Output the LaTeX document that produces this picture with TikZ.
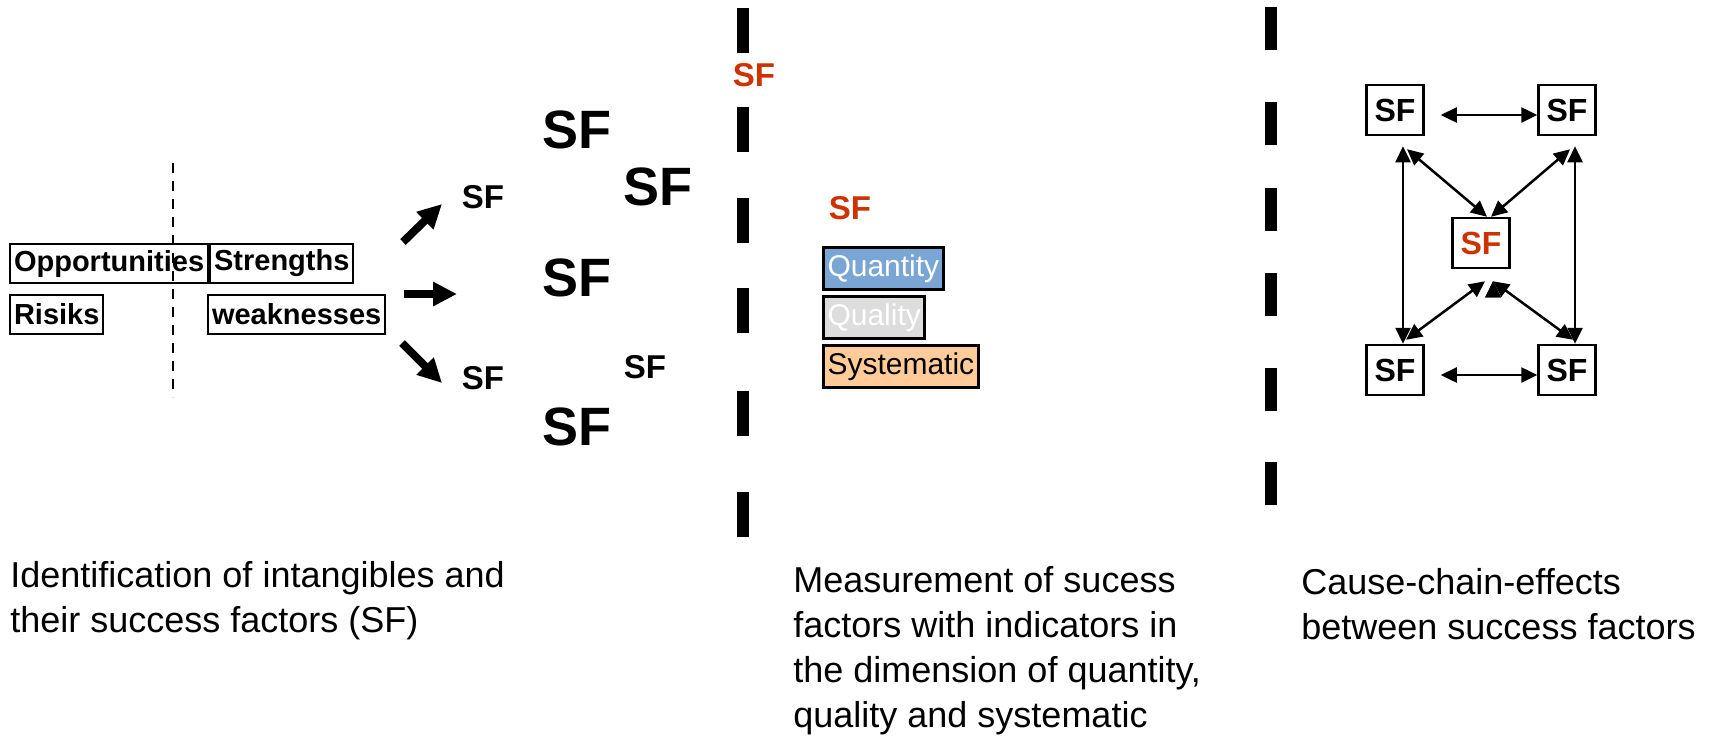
\documentclass[tikz,border=0pt]{standalone}
\usepackage{fontspec}
\setmainfont{Liberation Sans}
\usetikzlibrary{arrows.meta,positioning}

\definecolor{sfred}{RGB}{204,51,0}
\definecolor{qtyblue}{RGB}{122,166,214}
\definecolor{qualgrey}{RGB}{221,221,221}
\definecolor{sysorange}{RGB}{255,204,153}

\begin{document}
\begin{tikzpicture}
  [x=0.5pt,y=-0.5pt,
   swot/.style={draw,line width=1pt,anchor=west,inner xsep=2pt,inner ysep=0pt,
     minimum height=19.5pt,font=\bfseries\fontsize{14.5}{16}\selectfont},
   sfsmall/.style={inner sep=0pt,font=\bfseries\fontsize{16.5}{18}\selectfont},
   sfbig/.style={inner sep=0pt,font=\bfseries\fontsize{27}{30}\selectfont},
   dimbox/.style={draw,line width=1.5pt,anchor=north west,inner xsep=2pt,inner ysep=0pt,
     minimum height=21pt,font=\fontsize{15}{17}\selectfont},
   sfbox/.style={draw,line width=1.25pt,minimum width=28.5pt,minimum height=25pt,
     inner sep=0pt,font=\bfseries\fontsize{16}{18}\selectfont},
   captext/.style={anchor=base west,inner sep=0pt,align=left,
     font=\fontsize{18}{22.5}\selectfont},
   fan/.style={line width=4pt,-{Triangle[length=12pt,width=11.5pt]}},
   link/.style={line width=1.25pt,
     {Triangle[length=8pt,width=7.5pt]}-{Triangle[length=8pt,width=7.5pt]}},
   divider/.style={line width=6pt}]
  \useasboundingbox[fill=white] (0,0) rectangle (1728,735);

  % SWOT boxes, split by a thin dashed line
  \draw[line width=1pt,dash pattern=on 5pt off 4pt] (173,163) -- (173,397);
  \node[swot] (opp) at (9,263.5) {Opportunities};
  \node[swot] (str) at (opp.east) {Strengths};
  \node[swot] (ris) at (9,314) {Risiks};
  \node[swot] (weak) at (207,314) {weaknesses};

  % fan of arrows into the success factors
  \coordinate (f1) at (403,242);
  \coordinate (h1) at (442,204);
  \coordinate (f2) at (404,294);
  \coordinate (h2) at (457,294);
  \coordinate (f3) at (402,343);
  \coordinate (h3) at (442,383);
  \draw[fan] (f1) -- (h1);
  \draw[fan] (f2) -- (h2);
  \draw[fan] (f3) -- (h3);

  \node[sfsmall] (sfa) at (483,197) {SF};
  \node[sfsmall] (sfb) at (483,378) {SF};
  \node[sfbig] (sfc) at (577,130) {SF};
  \node[sfbig] (sfd) at (658,187) {SF};
  \node[sfbig] (sfe) at (577,278) {SF};
  \node[sfbig] (sff) at (577,427) {SF};
  \node[sfsmall] (sfg) at (645,367) {SF};

  % column dividers
  \foreach \y in {8,107,198,288,391,492}
    \draw[divider] (743,\y) -- ++(0,45);
  \foreach \y in {7,102,188,273,368,462}
    \draw[divider] (1271,\y) -- ++(0,43);
  \node[sfsmall,text=sfred] (topsf) at (754,75) {SF};

  % measurement dimensions
  \node[sfsmall,text=sfred] (msf) at (850,208) {SF};
  \node[dimbox,fill=qtyblue,text=white] (qty) at (822,246) {Quantity};
  \node[dimbox,fill=qualgrey,text=white,below right=2pt and 0pt of qty.south west] (qual) {Quality};
  \node[dimbox,fill=sysorange,below right=2pt and 0pt of qual.south west] (sys) {Systematic};

  % cause-chain-effects
  \node[sfbox] (tl) at (1395,110) {SF};
  \node[sfbox] (tr) at (1567,110) {SF};
  \node[sfbox,text=sfred] (ctr) at (1481,243) {SF};
  \node[sfbox] (bl) at (1395,370) {SF};
  \node[sfbox] (br) at (1567,370) {SF};
  \path[link,draw]
    ([shift={(16,5)}]tl.east) edge ([shift={(0,5)}]tr.west)
    ([shift={(16,5)}]bl.east) edge ([shift={(0,5)}]br.west)
    ([shift={(8,10)}]tl.south) edge ([shift={(8,0)}]bl.north)
    ([shift={(8,10)}]tr.south) edge ([shift={(8,0)}]br.north)
    ([shift={(12,13)}]tl.south) edge ([shift={(6,0)}]ctr.north)
    ([shift={(3,13)}]tr.south) edge ([shift={(10,0)}]ctr.north)
    ([shift={(4,12)}]ctr.south) edge ([shift={(11,-4)}]bl.north)
    ([shift={(12,12)}]ctr.south) edge ([shift={(6,-4)}]br.north);

  % captions (base = last line)
  \node[captext] (capa) at (10,632) {Identification of intangibles and\\their success factors (SF)};
  \node[captext] (capb) at (793,727) {Measurement of sucess\\factors with indicators in\\the dimension of quantity,\\quality and systematic};
  \node[captext] (capc) at (1301,639) {Cause-chain-effects\\between success factors};
\end{tikzpicture}
\end{document}
